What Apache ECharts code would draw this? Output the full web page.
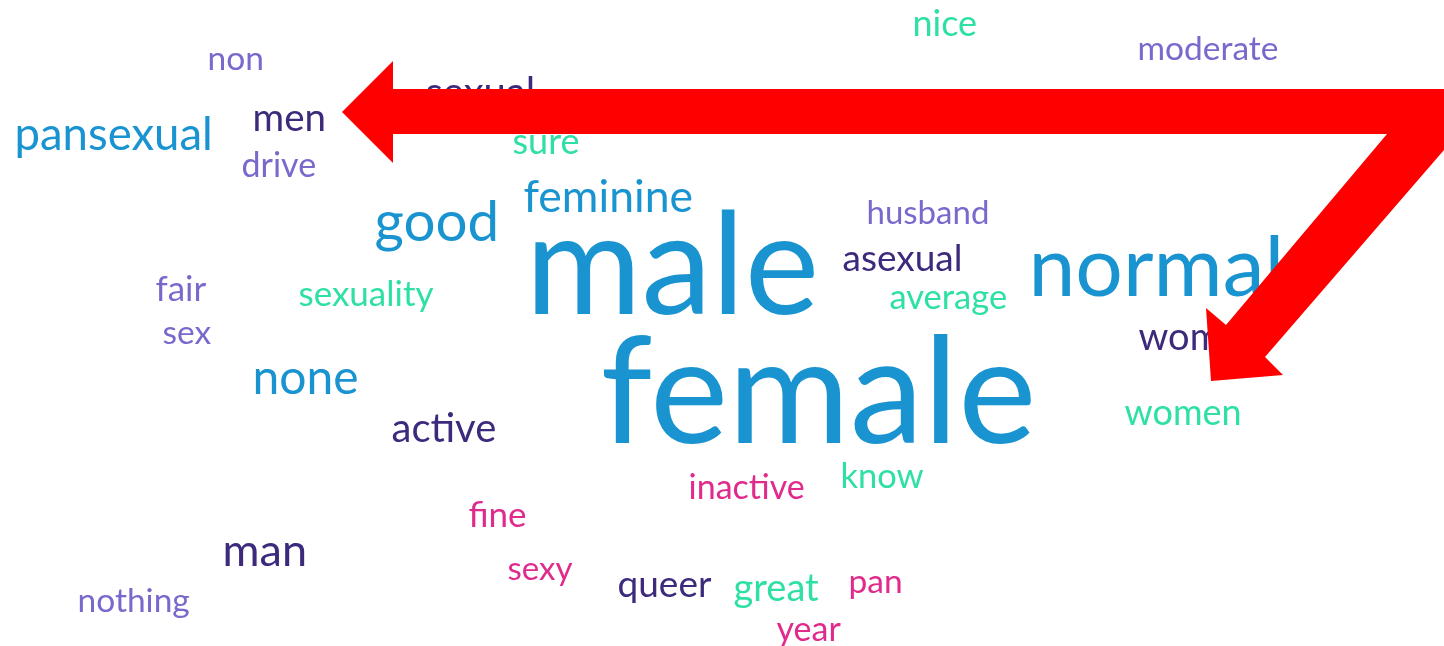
<!DOCTYPE html>
<html>
<head>
<meta charset="utf-8">
<script src="https://cdn.jsdelivr.net/npm/echarts@6/dist/echarts.min.js"></script>
<style>
html,body{margin:0;padding:0;background:#fff;}
#chart{width:1444px;height:646px;}
</style>
</head>
<body>
<div id="chart"></div>
<script>
// Words and their (estimated) weights
const words = ['nice','moderate','non','sexual','men','pansexual','sure','drive','feminine','husband',
  'good','male','asexual','normal','fair','sexuality','average','sex','women','none',
  'female','women','active','inactive','know','fine','man','sexy','queer','great','pan','nothing','year'];
const weights = [36,33.5,33.5,40,38.5,45.5,36,34,44.5,33,
  56.5,141,37,84,35,35,34.5,33.5,38,48,
  148,36,40,34,34.5,35,45,33,37,38,33.5,33.5,34];

// Layout of the cloud (left edge x, baseline y) and colour group
const layoutX = [912,1137,207,425,252,14,512,241,523,866,
  374,525,842,1028,155,298,889,162,1138,252,
  600,1124,391,688,840,468,222,507,617,733,848,77,776];
const layoutY = [38,62,72,108,133,152,156,179,214,226,
  244,321,273,300,303,308,311,346,352,396,
  450,427,444,501,490,529,568,582,599,603,595,614,643];
const colorGroup = [3,2,2,1,1,0,3,2,0,2,
  0,0,1,0,2,3,3,2,1,0,
  0,3,1,4,3,4,1,4,1,3,4,2,4];
const palette = ['#1a94d0','#3d2a7c','#7a68cd','#2fe0a6','#e02a8c'];

const data = words.map((w, i) => {
  const fs = weights[i];
  return {
    name: w,
    value: [layoutX[i], layoutY[i] - fs * 0.37],
    label: { fontSize: fs, color: palette[colorGroup[i]] }
  };
});

const arrow = [[342,112],[393,61],[393,89],[1444,89],[1444,150],[1265,357],[1283,375],
  [1211,381],[1206,308],[1226,325],[1387,134],[393,134],[393,163]];

const chart = echarts.init(document.getElementById('chart'), null, {renderer:'canvas'});
chart.setOption({
  backgroundColor: '#ffffff',
  animation: false,
  grid: { left: 0, right: 0, top: 0, bottom: 0 },
  xAxis: { type: 'value', min: 0, max: 1444, show: false },
  yAxis: { type: 'value', min: 0, max: 646, inverse: true, show: false },
  series: [{
    type: 'scatter',
    symbolSize: 1,
    itemStyle: { color: 'transparent', opacity: 1 },
    label: {
      show: true,
      position: 'right',
      distance: 0,
      opacity: 1,
      formatter: p => p.name,
      fontFamily: 'Lato',
      fontWeight: 'normal'
    },
    emphasis: { disabled: true },
    data: data
  }],
  graphic: [{
    type: 'polygon',
    z: 100,
    shape: { points: arrow },
    style: { fill: '#ff0000' }
  }]
});
</script>
</body>
</html>
